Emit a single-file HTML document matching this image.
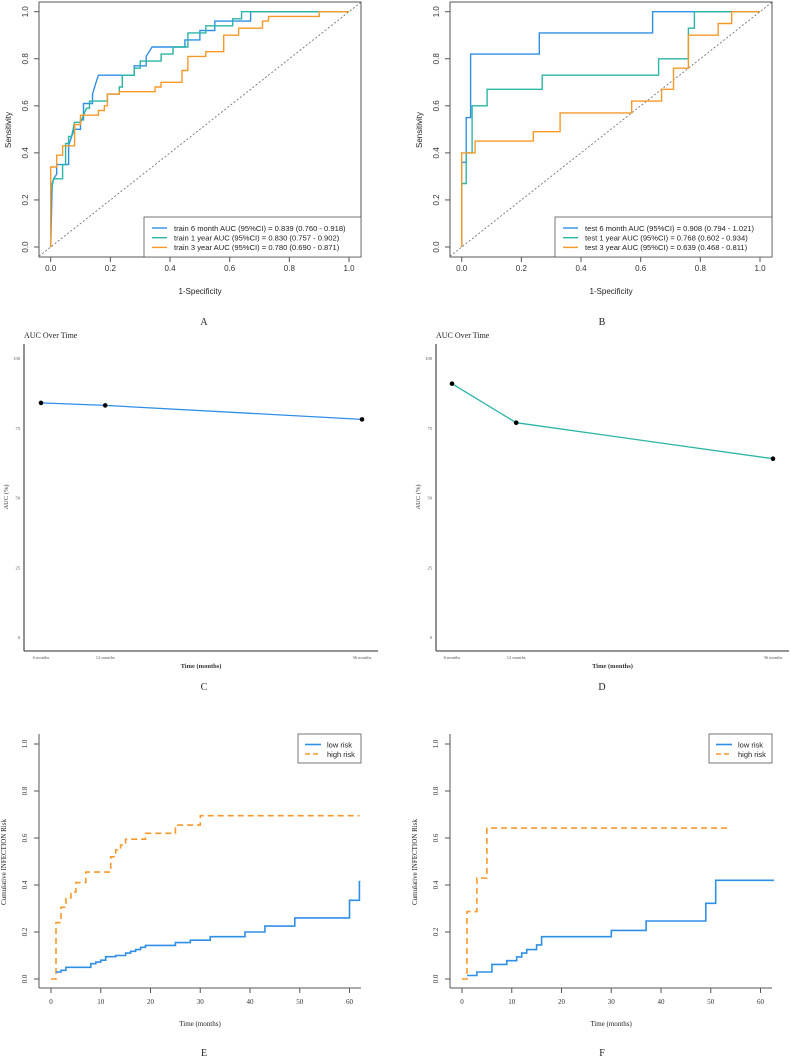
<!DOCTYPE html>
<html><head><meta charset="utf-8"><style>
html,body{margin:0;padding:0;background:#fff;}
svg{display:block;}
.sans{font-family:"Liberation Sans",sans-serif;}
.serif{font-family:"Liberation Serif",serif;}
</style></head><body>
<svg id="fig" width="791" height="1058" viewBox="0 0 791 1058" xmlns="http://www.w3.org/2000/svg"></svg>
<script>
// ---- ROC data (FPR, TPR step vertices) ----
const trainX6 = [0,0.005,0.01,0.02,0.02,0.06,0.06,0.07,0.08,0.1,0.1,0.11,0.11,0.14,0.14,0.15,0.16,0.28,0.28,0.32,0.32,0.34,0.45,0.45,0.5,0.5,0.55,0.55,0.67,0.67,1];
const trainY6 = [0,0.27,0.29,0.31,0.35,0.35,0.43,0.47,0.5,0.5,0.54,0.54,0.61,0.61,0.65,0.69,0.73,0.73,0.77,0.77,0.81,0.85,0.85,0.88,0.88,0.92,0.92,0.96,0.96,1,1];
const trainX12 = [0,0,0.01,0.04,0.04,0.05,0.05,0.06,0.06,0.07,0.08,0.1,0.11,0.12,0.13,0.13,0.19,0.19,0.23,0.23,0.24,0.24,0.28,0.28,0.3,0.3,0.37,0.37,0.41,0.41,0.46,0.46,0.52,0.52,0.61,0.61,0.64,0.64,1];
const trainY12 = [0,0.23,0.29,0.29,0.35,0.35,0.44,0.44,0.47,0.47,0.53,0.53,0.56,0.59,0.59,0.62,0.62,0.65,0.65,0.68,0.68,0.73,0.73,0.76,0.76,0.79,0.79,0.82,0.82,0.85,0.85,0.91,0.91,0.94,0.94,0.97,0.97,1,1];
const trainX36 = [0,0,0.02,0.02,0.04,0.04,0.08,0.08,0.1,0.1,0.16,0.16,0.18,0.18,0.19,0.19,0.23,0.23,0.35,0.35,0.37,0.37,0.44,0.44,0.46,0.46,0.52,0.52,0.58,0.58,0.63,0.63,0.71,0.71,0.73,0.73,0.9,0.9,1];
const trainY36 = [0,0.34,0.34,0.39,0.39,0.43,0.43,0.52,0.52,0.56,0.56,0.58,0.58,0.6,0.6,0.65,0.65,0.66,0.66,0.68,0.68,0.7,0.7,0.75,0.75,0.81,0.81,0.83,0.83,0.9,0.9,0.93,0.93,0.96,0.96,0.98,0.98,1,1];
const testX6 = [0,0,0.015,0.015,0.03,0.03,0.26,0.26,0.64,0.64,1];
const testY6 = [0,0.36,0.36,0.55,0.55,0.82,0.82,0.91,0.91,1,1];
const testX12 = [0,0,0.015,0.015,0.035,0.035,0.085,0.085,0.27,0.27,0.66,0.66,0.76,0.76,0.78,0.78,1];
const testY12 = [0,0.27,0.27,0.4,0.4,0.6,0.6,0.67,0.67,0.73,0.73,0.8,0.8,0.93,0.93,1,1];
const testX36 = [0,0,0.045,0.045,0.24,0.24,0.33,0.33,0.57,0.57,0.67,0.67,0.71,0.71,0.76,0.76,0.86,0.86,0.905,0.905,1];
const testY36 = [0,0.4,0.4,0.45,0.45,0.49,0.49,0.57,0.57,0.62,0.62,0.67,0.67,0.76,0.76,0.9,0.9,0.95,0.95,1,1];
const rocTicks = [0,0.2,0.4,0.6,0.8,1.0];
const trainLegend = ["train 6 month AUC (95%CI) = 0.839 (0.760 - 0.918)","train 1 year AUC (95%CI) = 0.830 (0.757 - 0.902)","train 3 year AUC (95%CI) = 0.780 (0.690 - 0.871)"];
const testLegend = ["test 6 month AUC (95%CI) = 0.908 (0.794 - 1.021)","test 1 year AUC (95%CI) = 0.768 (0.602 - 0.934)","test 3 year AUC (95%CI) = 0.639 (0.468 - 0.811)"];
// ---- AUC over time ----
const aucMonths = [6,12,36];
const aucLabels = ["6 months","12 months","36 months"];
const aucTrain = [83.9,83.0,78.0];
const aucTest = [90.8,76.8,63.9];
const aucTicks = [0,25,50,75,100];
// ---- KM cumulative risk ----
const eLowT = [1,2,3,8,9,10,11,13,15,16,17,18,19,25,28,32,39,43,49,60,62];
const eLowV = [0.03,0.037,0.05,0.065,0.072,0.08,0.095,0.1,0.11,0.118,0.125,0.135,0.143,0.155,0.165,0.18,0.2,0.225,0.26,0.335,0.415];
const eLowEnd = 62.2;
const eHighT = [0,1,2,3,4,5,7,12,13,14,15,19,25,30];
const eHighV = [0,0.24,0.305,0.345,0.37,0.41,0.455,0.52,0.55,0.57,0.595,0.62,0.655,0.695];
const eHighEnd = 62;
const fLowT = [1,3,6,9,11,12,13,15,16,30,37,49,51];
const fLowV = [0.015,0.03,0.062,0.078,0.094,0.11,0.125,0.145,0.18,0.207,0.247,0.322,0.42];
const fLowEnd = 62.7;
const fHighT = [0,1,3,5];
const fHighV = [0,0.287,0.43,0.642];
const fHighEnd = 54;
const kmXTicks = [0,10,20,30,40,50,60];
const kmYTicks = [0,0.2,0.4,0.6,0.8,1.0];

const BLUE="#2f8fe6", TEAL="#2bb5a5", ORANGE="#f7992a";
const svg=document.getElementById('fig');
const NS="http://www.w3.org/2000/svg";
function mk(tag,attrs,parent){const e=document.createElementNS(NS,tag);for(const k in attrs)e.setAttribute(k,attrs[k]);(parent||svg).appendChild(e);return e;}
function txt(s,x,y,size,cls,anchor,rot,parent,extra){const t=mk('text',Object.assign({x:x,y:y,'font-size':size,'class':cls,'text-anchor':anchor||'middle',fill:'#222'},extra||{}),parent);if(rot)t.setAttribute('transform','rotate('+rot+' '+x+' '+y+')');t.textContent=s;return t;}

function roc(ox, name, xs, ys, legend){
  const g=mk('g',{});
  
  
  const bx0=ox+39, bx1=ox+361, by0=2, by1=257;
  const sx=v=>ox+50.7+v*298.3, sy=v=>247-v*235.3;
  const box=mk('rect',{x:bx0,y:by0,width:bx1-bx0,height:by1-by0,fill:'none',stroke:'#555','stroke-width':1},g);
  
  const dg=mk('line',{x1:bx0,y1:sy(-(50.7-39)/298.3),x2:sx(1.04),y2:sy(1.04),stroke:'#666','stroke-width':0.8,'stroke-dasharray':'2,2'},g);
  
  rocTicks.forEach(t=>{
    mk('line',{x1:sx(t),y1:by1,x2:sx(t),y2:by1+5,stroke:'#555'},g);
    const xl=txt(t.toFixed(1),sx(t),271,8,'sans','middle',0,g,{fill:'#333'});
    
    mk('line',{x1:bx0,y1:sy(t),x2:bx0-5,y2:sy(t),stroke:'#555'},g);
    const yl=txt(t.toFixed(1),ox+28,sy(t),8,'sans','middle',-90,g,{fill:'#333'});
    
  });
  const xt=txt('1-Specificity',ox+200,294,8,'sans','middle',0,g);
  
  const yt=txt('Sensitivity',ox+11,130,8,'sans','middle',-90,g);
  
  const cols=[BLUE,TEAL,ORANGE];
  xs.forEach((arr,i)=>{
    const pts=arr.map((v,j)=>sx(v).toFixed(1)+','+sy(ys[i][j]).toFixed(1)).join(' ');
    const pl=mk('polyline',{points:pts,fill:'none',stroke:cols[i],'stroke-width':1.4},g);
    
    
  });
  const lx0=ox+144;
  const lb=mk('rect',{x:lx0,y:217,width:bx1-lx0,height:40,fill:'#fff',stroke:'#555','stroke-width':0.8},g);
  
  legend.forEach((s,i)=>{
    const y=228+i*9.7;
    const ll=mk('line',{x1:lx0+8,y1:y,x2:lx0+23,y2:y,stroke:cols[i],'stroke-width':1.4},g);
    
    const lt=txt(s,lx0+30,y+2.8,7.6,'sans','start',0,g);
    
  });
}
roc(0,'roc-train-panel',[trainX6,trainX12,trainX36],[trainY6,trainY12,trainY36],trainLegend);
roc(395+(450-434),'roc-test-panel',[testX6,testX12,testX36],[testY6,testY12,testY36],testLegend);

function aucPanel(ax, rx, p6, p36, vals, color, name){
  const g=mk('g',{});
  
  
  const sx=m=>p6+(m-6)*(p36-p6)/30, sy=v=>637-v*2.79;
  const tt=txt('AUC Over Time',ax,338,8,'serif','start',0,g);
  
  mk('line',{x1:ax,y1:344,x2:ax,y2:651,stroke:'#555','stroke-width':1.3},g);
  mk('line',{x1:ax,y1:651,x2:rx,y2:651,stroke:'#555','stroke-width':1.3},g);
  aucTicks.forEach(t=>{const l=txt(String(t),ax-4,sy(t)+2,4.5,'serif','end',0,g,{fill:'#555'});});
  aucMonths.forEach((m,i)=>{const l=txt(aucLabels[i],sx(m),659,4.5,'serif','middle',0,g,{fill:'#555'});});
  const xt=txt('Time (months)',(ax+rx)/2,668,6.5,'serif','middle',0,g,{'font-weight':'bold','fill':'#333'});
  
  const yt=txt('AUC (%)',ax-16,497,6.5,'serif','middle',-90,g,{fill:'#333'});
  
  const pts=aucMonths.map((m,i)=>sx(m).toFixed(1)+','+sy(vals[i]).toFixed(1)).join(' ');
  const pl=mk('polyline',{points:pts,fill:'none',stroke:color,'stroke-width':1.3},g);
  
  aucMonths.forEach((m,i)=>{const c=mk('circle',{cx:sx(m),cy:sy(vals[i]),r:2.3,fill:'#000'},g);});
}
aucPanel(24,378,41,362,aucTrain,BLUE,'auc-train-panel');
aucPanel(436,789,452,773,aucTest,TEAL,'auc-test-panel');

function kmPanel(ox, lowT, lowV, lowEnd, highT, highV, highEnd, name){
  const g=mk('g',{});
  
  
  const x0=ox+12, bx=ox, sx=t=>x0+t*4.975, sy=v=>979-v*235;
  mk('line',{x1:bx,y1:734,x2:bx,y2:988,stroke:'#555','stroke-width':1},g);
  mk('line',{x1:bx,y1:988,x2:bx+322,y2:988,stroke:'#555','stroke-width':1},g);
  kmYTicks.forEach(t=>{
    mk('line',{x1:bx,y1:sy(t),x2:bx-5,y2:sy(t),stroke:'#555'},g);
    const l=txt(t.toFixed(1),bx-12,sy(t),7,'serif','middle',-90,g,{fill:'#333'});
  });
  kmXTicks.forEach(t=>{
    mk('line',{x1:sx(t),y1:988,x2:sx(t),y2:993,stroke:'#555'},g);
    const l=txt(String(t),sx(t),1004,7,'serif','middle',0,g,{fill:'#333'});
  });
  const xt=txt('Time (months)',ox+161,1026,7,'serif','middle',0,g);
  
  const yt=txt('Cumulative INFECTION Risk',ox-33,862,7,'serif','middle',-90,g);
  
  function step(T,V,end,start0){
    let pts=[];
    if(start0){pts.push([0,0]);}
    T.forEach((t,i)=>{ if(pts.length) pts.push([t,pts[pts.length-1][1]]); pts.push([t,V[i]]); });
    pts.push([end,V[V.length-1]]);
    return pts.map(p=>sx(p[0]).toFixed(1)+','+sy(p[1]).toFixed(1)).join(' ');
  }
  const hl=mk('polyline',{points:step(highT,highV,highEnd,false),fill:'none',stroke:ORANGE,'stroke-width':1.6,'stroke-dasharray':'6,4'},g);
  
  const ll=mk('polyline',{points:step(lowT,lowV,lowEnd,false),fill:'none',stroke:BLUE,'stroke-width':1.6},g);
  
  const lx=ox+259;
  const lb=mk('rect',{x:lx,y:734,width:63,height:29,fill:'#fff',stroke:'#555','stroke-width':0.8},g);
  
  const s1=mk('line',{x1:lx+7,y1:744.5,x2:lx+23,y2:744.5,stroke:BLUE,'stroke-width':1.6},g);
  
  const s2=mk('line',{x1:lx+7,y1:754,x2:lx+23,y2:754,stroke:ORANGE,'stroke-width':1.6,'stroke-dasharray':'5,3'},g);
  
  const t1=txt('low risk',lx+29,747.5,7.5,'sans','start',0,g);
  const t2=txt('high risk',lx+29,757,7.5,'sans','start',0,g);
}
kmPanel(39,eLowT,eLowV,eLowEnd,eHighT,eHighV,eHighEnd,'km-train-panel');
kmPanel(450,fLowT,fLowV,fLowEnd,fHighT,fHighV,fHighEnd,'km-test-panel');

[['A',204,325],['B',602,325],['C',204,690],['D',602,690],['E',204,1056],['F',602,1056]].forEach(p=>{
  const t=txt(p[0],p[1],p[2],10,'serif','middle',0,svg);
  
  
});
</script>
</body></html>
